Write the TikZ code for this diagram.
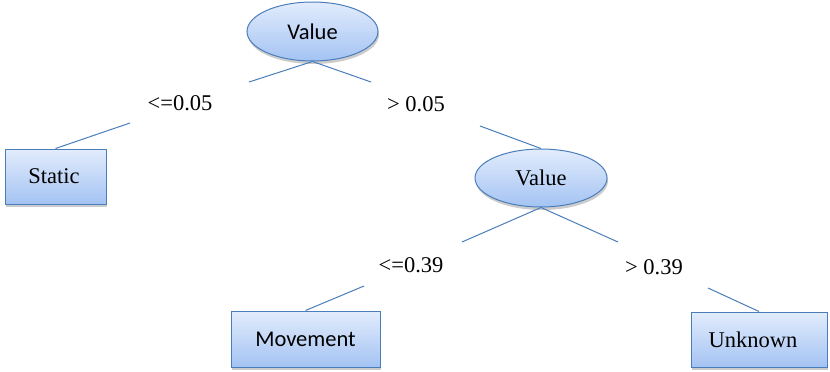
\documentclass[tikz,border=0pt]{standalone}
\usepackage{fontspec}
\setmainfont{Liberation Serif}
\newfontfamily\timesfont{Liberation Serif}
\newfontfamily\carlito{Carlito}
\usetikzlibrary{shapes.geometric,shadows}
\definecolor{edgeblue}{HTML}{4A7EBB}
\definecolor{filltop}{HTML}{E2ECFC}
\definecolor{fillbot}{HTML}{A4C3F3}
\begin{document}
\begin{tikzpicture}[x=1pt,y=-1pt,
  every node/.style={font=\timesfont\fontsize{22.5}{27}\selectfont},
  sansfont/.style={font=\carlito\fontsize{22.5}{27}\selectfont},
  edge/.style={draw=edgeblue, line width=1pt},
  shadedfill/.style={top color=filltop, bottom color=fillbot, draw=edgeblue, line width=1pt,
    drop shadow={shadow xshift=1pt, shadow yshift=-3pt, opacity=0.2, fill=black}},
  ellnode/.style={shadedfill, ellipse, inner sep=0pt},
  boxnode/.style={shadedfill, rectangle, inner sep=0pt},
  lbl/.style={inner sep=0pt}]
\useasboundingbox (0,0) rectangle (830,372);

% decision and leaf nodes
\node[ellnode, sansfont, minimum width=131pt, minimum height=59pt] (v1) at (312.5,31.5) {Value};
\node[boxnode, minimum width=101pt, minimum height=55pt] (static) at (55.5,176.5) {\hspace*{-3pt}Static};
\node[ellnode, minimum width=132pt, minimum height=58pt] (v2) at (541,178) {Value};
\node[boxnode, sansfont, minimum width=149pt, minimum height=56pt] (move) at (305.5,339) {Movement};
\node[boxnode, minimum width=136pt, minimum height=55pt] (unk) at (759,339.5) {Unknown\hspace*{12pt}};

% edge labels
\node[lbl] (l1) at (180,103) {<=0.05};
\node[lbl] (l2) at (416,104) {> 0.05};
\node[lbl] (l3) at (411,265) {<=0.39};
\node[lbl] (l4) at (654,267) {> 0.39};

% free ends of connectors
\coordinate (a1) at (249,82);
\coordinate (a2) at (371,82);
\coordinate (b1) at (130,123);
\coordinate (b2) at (480,126);
\coordinate (c1) at (462,242);
\coordinate (c2) at (618,242);
\coordinate (d1) at (364,286);
\coordinate (d2) at (708,288);

\draw[edge] (v1.south) -- (a1);
\draw[edge] (v1.south) -- (a2);
\draw[edge] (b1) -- (static.north);
\draw[edge] (b2) -- (v2.north);
\draw[edge] (v2.south) -- (c1);
\draw[edge] (v2.south) -- (c2);
\draw[edge] (d1) -- (move.north);
\draw[edge] (d2) -- (unk.north);
\end{tikzpicture}
\end{document}
